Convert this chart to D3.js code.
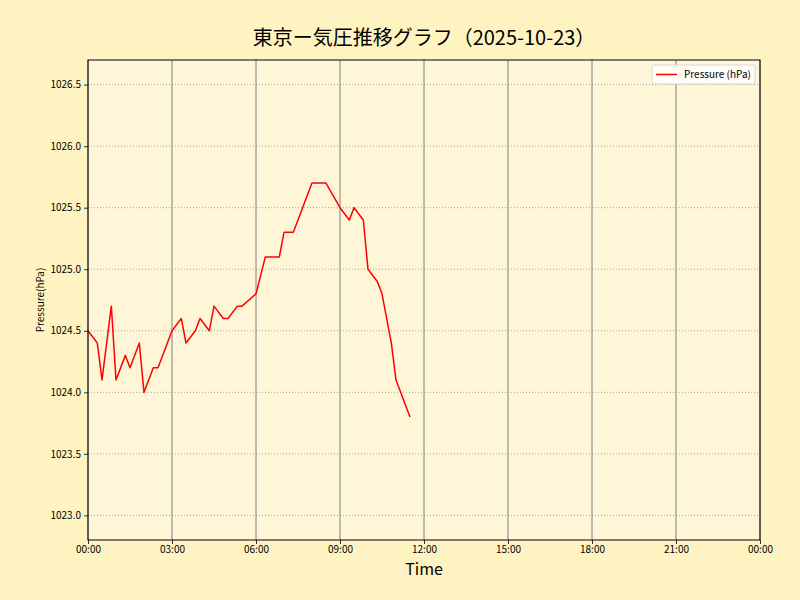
<!DOCTYPE html>
<html>
<head>
<meta charset="utf-8">
<script src="https://cdn.jsdelivr.net/npm/d3@7"></script>
<style>
  html, body { margin: 0; padding: 0; background: #fff4c1; }
  svg { display: block; }
  text { font-family: "Noto Sans CJK JP", "Noto Sans", sans-serif; }
</style>
</head>
<body>
<svg id="chart" width="800" height="600"></svg>
<script>
const times = ["00:00","00:20","00:30","00:50","01:00","01:20","01:30","01:50","02:00","02:20","02:30",
  "03:00","03:20","03:30","03:50","04:00","04:20","04:30","04:50","05:00","05:20","05:30",
  "06:00","06:20","06:50","07:00","07:20","08:00","08:30","09:00","09:20","09:30","09:50",
  "10:00","10:20","10:30","10:50","11:00","11:30"];
const pressure = [1024.5,1024.4,1024.1,1024.7,1024.1,1024.3,1024.2,1024.4,1024.0,1024.2,1024.2,
  1024.5,1024.6,1024.4,1024.5,1024.6,1024.5,1024.7,1024.6,1024.6,1024.7,1024.7,
  1024.8,1025.1,1025.1,1025.3,1025.3,1025.7,1025.7,1025.5,1025.4,1025.5,1025.4,
  1025.0,1024.9,1024.8,1024.4,1024.1,1023.8];
const yTicks = [1023.0,1023.5,1024.0,1024.5,1025.0,1025.5,1026.0,1026.5];
const xTickHours = [0,3,6,9,12,15,18,21,24];
const titleText = "東京ー気圧推移グラフ（2025-10-23）";
const seriesName = "Pressure (hPa)";

const svg = d3.select("#chart");
const W = 800, H = 600;
const m = {left: 88, right: 40, top: 60, bottom: 60};
const pw = W - m.left - m.right, ph = H - m.top - m.bottom;

svg.append("rect").attr("width", W).attr("height", H).attr("fill", "#fff4c1");

const parse = s => { const [h, mi] = s.split(":").map(Number); return new Date(2025, 9, 23, h, mi); };
const t0 = new Date(2025, 9, 23, 0, 0), t1 = new Date(2025, 9, 24, 0, 0);
const x = d3.scaleTime().domain([t0, t1]).range([m.left, m.left + pw]);
const yMin = d3.min(pressure) - 1, yMax = d3.max(pressure) + 1;
const y = d3.scaleLinear().domain([yMin, yMax]).range([m.top + ph, m.top]);

svg.append("rect").attr("x", m.left).attr("y", m.top).attr("width", pw).attr("height", ph)
  .attr("fill", "#fff6d8");

const xTicks = xTickHours.map(h => new Date(2025, 9, 23, h, 0));

// grid
const g = svg.append("g");
g.selectAll("line.hg").data(yTicks).join("line")
  .attr("x1", m.left).attr("x2", m.left + pw)
  .attr("y1", d => y(d)).attr("y2", d => y(d))
  .attr("stroke", "#8a8a8a").attr("stroke-width", 0.8).attr("stroke-dasharray", "1,2");
g.selectAll("line.vg").data(xTicks).join("line")
  .attr("x1", d => x(d)).attr("x2", d => x(d))
  .attr("y1", m.top).attr("y2", m.top + ph)
  .attr("stroke", "#808080").attr("stroke-width", 1);

// line
const data = times.map((t, i) => ({t: parse(t), v: pressure[i]}));
svg.append("path").datum(data)
  .attr("fill", "none").attr("stroke", "#ff0000").attr("stroke-width", 1.5)
  .attr("stroke-linejoin", "round")
  .attr("d", d3.line().x(d => x(d.t)).y(d => y(d.v)));

// axes
const xAxis = d3.axisBottom(x).tickValues(xTicks).tickFormat(d3.timeFormat("%H:%M")).tickSize(4).tickPadding(2);
const yAxis = d3.axisLeft(y).tickValues(yTicks).tickFormat(d3.format(".1f")).tickSize(4).tickPadding(3);
const gx = svg.append("g").attr("transform", `translate(0,${m.top + ph})`).call(xAxis);
const gy = svg.append("g").attr("transform", `translate(${m.left},0)`).call(yAxis);
[gx, gy].forEach(a => {
  a.select(".domain").remove();
  a.selectAll("line").attr("stroke", "#000").attr("stroke-width", 0.8);
  a.selectAll("text").attr("fill", "#000").style("font-size", "10px")
    .style("font-family", '"Noto Sans CJK JP", sans-serif');
});

// spines
svg.append("rect").attr("x", m.left).attr("y", m.top).attr("width", pw).attr("height", ph)
  .attr("fill", "none").attr("stroke", "#000").attr("stroke-width", 1);

// title / labels
svg.append("text").attr("x", m.left + pw / 2).attr("y", 45).attr("text-anchor", "middle")
  .style("font-size", "20px").attr("fill", "#000").text(titleText);
svg.append("text").attr("x", m.left + pw / 2).attr("y", 575).attr("text-anchor", "middle")
  .style("font-size", "16px").attr("fill", "#000").text("Time");
svg.append("text").attr("transform", `translate(44,${m.top + ph / 2}) rotate(-90)`)
  .attr("text-anchor", "middle").style("font-size", "10px").attr("fill", "#000").text("Pressure(hPa)");

// legend
const lg = svg.append("g");
lg.append("rect").attr("x", 652).attr("y", 65).attr("width", 103).attr("height", 19).attr("rx", 2)
  .attr("fill", "#fffdf5").attr("stroke", "#d8d8d8").attr("stroke-width", 1);
lg.append("line").attr("x1", 656).attr("x2", 677).attr("y1", 74.5).attr("y2", 74.5)
  .attr("stroke", "#ff0000").attr("stroke-width", 1.5);
lg.append("text").attr("x", 684).attr("y", 78).style("font-size", "10px").attr("fill", "#000").text(seriesName);
</script>
</body>
</html>
